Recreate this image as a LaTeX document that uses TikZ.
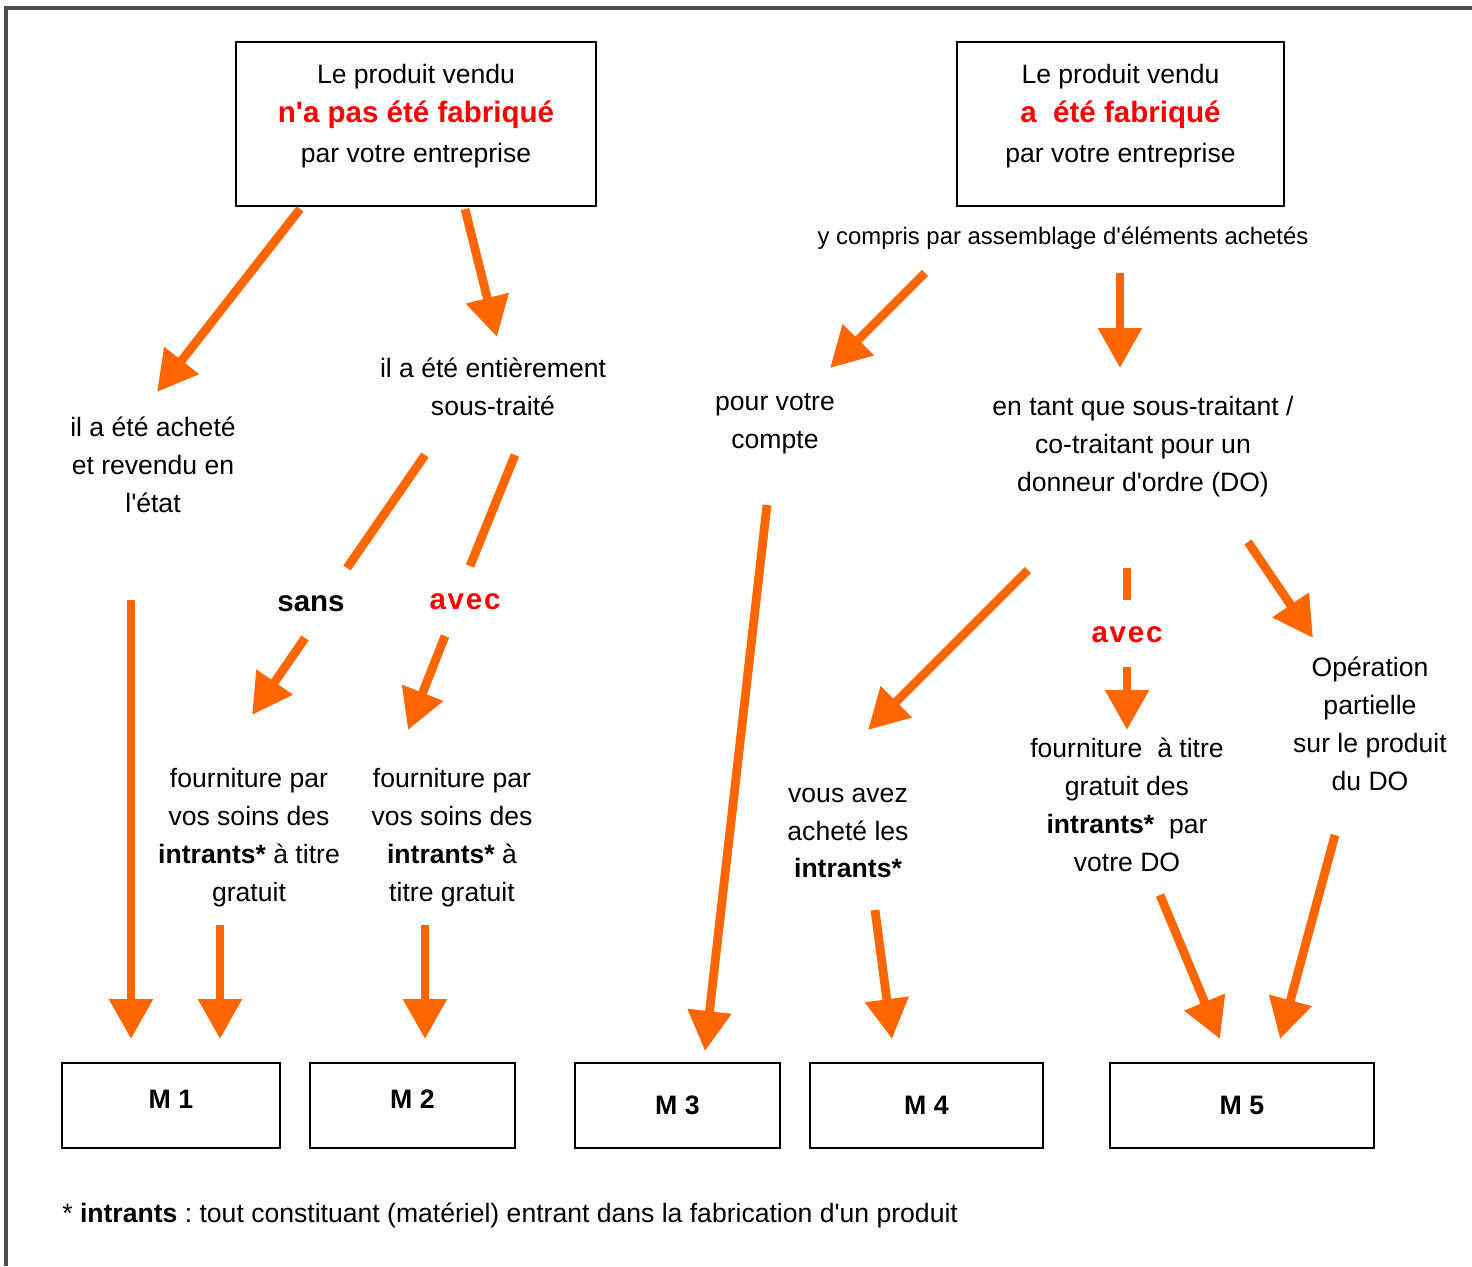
\documentclass[tikz,border=0pt]{standalone}
\usepackage{fontspec}
\setmainfont{Liberation Sans}[Ligatures=TeXOff]
\usetikzlibrary{positioning}
\usetikzlibrary{arrows.meta}
\usetikzlibrary{calc}

\definecolor{arrorange}{RGB}{255,102,0}
\definecolor{txtred}{RGB}{255,0,0}

\tikzset{
  prodbox/.style={draw, line width=0.5mm, minimum height=41mm},
  mbox/.style={draw, line width=0.5mm, minimum height=21.25mm, font=\fontsize{19}{23}\selectfont\bfseries},
  casetext/.style={align=center, inner sep=0pt, font=\fontsize{18.9}{27}\selectfont},
  choice/.style={inner sep=0pt, font=\fontsize{21}{25}\selectfont\bfseries},
  flow/.style={draw=arrorange, line width=2.2mm, -{Triangle[length=10mm,width=10.5mm]}},
  flowpart/.style={draw=arrorange, line width=2.2mm},
}

\begin{document}
\frenchspacing
\begin{tikzpicture}[x=0.25mm, y=-0.25mm]
        \useasboundingbox[fill=white] (0,0) rectangle (1472,1266);
        \draw[line width=0.8mm, black!70] (6,1266) -- (6,8) -- (1472,8);

        \node[prodbox, minimum width=90mm] (boxA) at (416,124) {};
        \node[casetext, font=\fontsize{18.9}{28}\selectfont] (titleA) at ($(boxA)+(0,-8)$)
            {Le produit vendu\\ {\color{txtred}\fontsize{21}{28}\selectfont\bfseries n'a pas été fabriqué}\\ par votre entreprise};
        \node[prodbox, minimum width=81.75mm] (boxB) at (1120.5,124) {};
        \node[casetext, font=\fontsize{18.9}{28}\selectfont] (titleB) at ($(boxB)+(0,-8)$)
            {Le produit vendu\\ {\color{txtred}\fontsize{21}{28}\selectfont\bfseries a\ \ été fabriqué}\\ par votre entreprise};
        \node[casetext, font=\fontsize{17}{21}\selectfont] (assemb) at (1063,238) {y compris par assemblage d'éléments achetés};

        \node[casetext] (achete) at (153,465) {il a été acheté\\ et revendu en\\ l'état};
        \node[casetext] (soustraite) at (493,387) {il a été entièrement\\ sous-traité};
        \node[casetext] (compte) at (775,424) {pour votre\\ compte};
        \node[casetext] (donneur) at (1143,447) {en tant que sous-traitant /\\ co-traitant pour un\\ donneur d'ordre (DO)};

        \node[choice] (sans) at (311,604) {sans};
        \node[choice, text=txtred] (avecA) at (465,602) {\addfontfeature{LetterSpace=6}avec};
        \node[choice, text=txtred] (avecB) at (1127,635) {\addfontfeature{LetterSpace=6}avec};

        \node[casetext] (fournA) at (249,838) {fourniture par\\ vos soins des\\ \textbf{intrants*} à titre\\ gratuit};
        \node[casetext] (fournB) at (452,838) {fourniture par\\ vos soins des\\ \textbf{intrants*} à\\ titre gratuit};
        \node[casetext] (achint) at (848,833) {vous avez\\ acheté les\\ \textbf{intrants*}};
        \node[casetext] (fournC) at (1127,805) {fourniture\ \ à titre\\ gratuit des\\ \textbf{intrants*}\ \ par\\ votre DO};
        \node[casetext] (partielle) at (1370,724) {Opération\\ partielle\\ sur le produit\\ du DO};

        \node[mbox, minimum width=54.5mm, text depth=3mm] (M1) at (171,1105.5) {M 1};
        \node[mbox, minimum width=51.25mm, text depth=3mm] (M2) at (412.5,1105.5) {M 2};
        \node[mbox, minimum width=51.25mm] (M3) at (677.5,1105.5) {M 3};
        \node[mbox, minimum width=58.25mm] (M4) at (926.5,1105.5) {M 4};
        \node[mbox, minimum width=66mm] (M5) at (1242,1105.5) {M 5};

        \node[casetext, anchor=west] (note) at (62,1215) {* \textbf{intrants} : tout constituant (matériel) entrant dans la fabrication d'un produit};

        \draw[flow] ($(boxA.south)+(-116,2)$) -- ($(achete)+(4,-73)$);
        \draw[flow] ($(boxA.south)+(49,2)$) -- ($(soustraite)+(4,-50)$);
        \draw[flowpart] ($(soustraite)+(-68,68)$) -- ($(sans)+(36,-36)$);
        \draw[flow] ($(sans)+(-6,34)$) -- ($(fournA)+(3,-123)$);
        \draw[flowpart] ($(soustraite)+(22,68)$) -- ($(avecA)+(5,-36)$);
        \draw[flow] ($(avecA)+(-20,34)$) -- ($(fournB)+(-44,-108)$);
        \draw[flow] ($(achete)+(-22,135)$) -- ($(M1.north)+(-40,-23)$);
        \draw[flow] ($(fournA)+(-29,87)$) -- ($(M1.north)+(49,-23)$);
        \draw[flow] ($(fournB)+(-27,87)$) -- ($(M2.north)+(12.5,-23)$);

        \draw[flow] ($(assemb)+(-138,35)$) -- ($(compte)+(55,-56)$);
        \draw[flow] ($(assemb)+(57,35)$) -- ($(donneur)+(-23,-79)$);
        \draw[flow] ($(compte)+(-8,81)$) -- ($(M3.north)+(27.5,-11)$);
        \draw[flow] ($(donneur)+(-115,123)$) -- ($(achint)+(20,-103)$);
        \draw[flowpart] ($(donneur)+(-16,121)$) -- ($(avecB)+(0,-35)$);
        \draw[flow] ($(avecB)+(0,32)$) -- ($(fournC)+(0,-75)$);
        \draw[flow] ($(donneur)+(105,95)$) -- ($(partielle)+(-57,-86)$);
        \draw[flow] ($(achint)+(27,77)$) -- ($(M4.north)+(-34.5,-23)$);
        \draw[flow] ($(fournC)+(33,90)$) -- ($(M5.north)+(-22,-23)$);
        \draw[flow] ($(partielle)+(-35,111)$) -- ($(M5.north)+(38,-23)$);
\end{tikzpicture}
\end{document}
